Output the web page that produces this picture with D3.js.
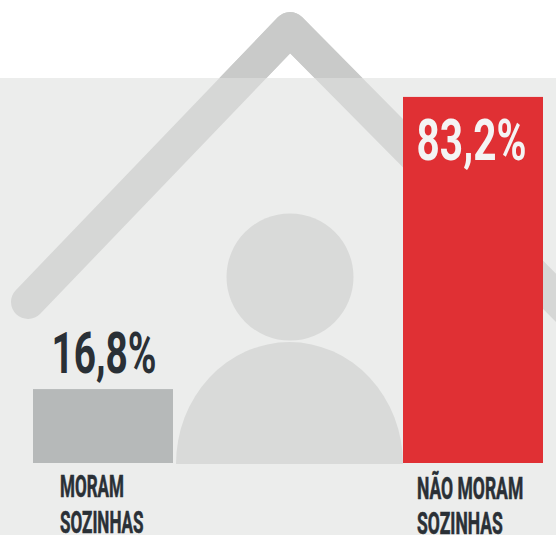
<!DOCTYPE html>
<html><head><meta charset="utf-8">
<style>html,body{margin:0;padding:0;background:#fff}svg{display:block}</style>
<script src="https://cdn.jsdelivr.net/npm/d3@7"></script></head>
<body><svg id="c" width="556" height="535"></svg>
<script>
const categories = ["MORAM SOZINHAS", "NÃO MORAM SOZINHAS"];
const values = [16.8, 83.2];
const valueLabels = ["16,8%", "83,2%"];
const labelLines = [["MORAM", "SOZINHAS"], ["NÃO MORAM", "SOZINHAS"]];
const barColors = ["#b6b9b9", "#e03034"];

const svg = d3.select("#c");
const x = d3.scaleBand().domain(categories).range([33, 543]).paddingInner(1 - 140 / 370).paddingOuter(0);
const y = d3.scaleLinear().domain([0, 100]).range([463, 23]);

const roof = "M28,302 L290,29 L570,312";
svg.append("clipPath").attr("id", "above").append("rect").attr("x", 0).attr("y", 0).attr("width", 556).attr("height", 78);
svg.append("rect").attr("x", 0).attr("y", 78).attr("width", 556).attr("height", 457).attr("fill", "#ecedec");
const drawRoof = (color) => svg.append("path").attr("d", roof).attr("fill", "none")
  .attr("stroke", color).attr("stroke-width", 34).attr("stroke-linecap", "round").attr("stroke-linejoin", "round");
drawRoof("#d6d7d6");
drawRoof("#c9cac9").attr("clip-path", "url(#above)");
svg.append("circle").attr("cx", 290).attr("cy", 277).attr("r", 63.5).attr("fill", "#d9dad9");
svg.append("path").attr("d", "M176,464 A113.5,122 0 0 1 403,464 Z").attr("fill", "#d9dad9");

svg.selectAll("rect.bar").data(values).join("rect").attr("class", "bar")
  .attr("x", (d, i) => x(categories[i])).attr("width", x.bandwidth())
  .attr("y", d => y(d)).attr("height", d => y(0) - y(d))
  .attr("fill", (d, i) => barColors[i]);

const font = "Roboto,sans-serif";
function condensed(sel, px, py, anchor, sx) { sel.attr("transform", `translate(${px},${py}) scale(${sx},1)`).attr("text-anchor", anchor); }

svg.selectAll("text.val").data(values).join("text").attr("class", "val")
  .text((d, i) => valueLabels[i])
  .attr("font-family", font).attr("font-weight", 700).attr("font-size", 58)
  .attr("fill", (d, i) => i === 0 ? "#2a3036" : "#f4f4f4")
  .each(function (d, i) {
    condensed(d3.select(this), [104, 471.5][i], [373, 160][i], "middle", [0.67, 0.7][i]);
  });

labelLines.forEach((lines, i) => {
  lines.forEach((t, j) => {
    svg.append("text").text(t).attr("font-family", font).attr("font-weight", 700).attr("font-size", 31)
      .attr("fill", "#2a3036").attr("stroke", "#2a3036").attr("stroke-width", 0.6)
      .call(condensed, [60, 417][i], [[497, 533], [499, 534]][i][j], "start", [0.55, 0.565][i]);
  });
});
</script></body></html>
